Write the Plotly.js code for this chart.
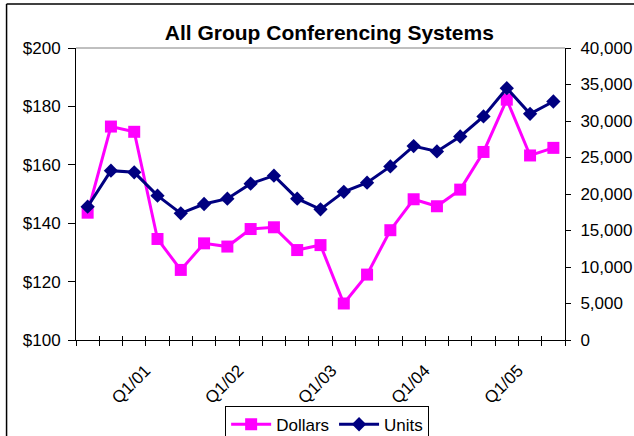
<!DOCTYPE html>
<html>
<head>
<meta charset="utf-8">
<script src="https://cdn.plot.ly/plotly-3.0.1.min.js"></script>
<style>
html,body{margin:0;padding:0;background:#fff;}
#chart{width:634px;height:436px;}
</style>
</head>
<body>
<div id="chart"></div>
<script>
var quarters = ['Q2/00','Q3/00','Q4/00','Q1/01','Q2/01','Q3/01','Q4/01','Q1/02','Q2/02','Q3/02','Q4/02',
                'Q1/03','Q2/03','Q3/03','Q4/03','Q1/04','Q2/04','Q3/04','Q4/04','Q1/05','Q2/05'];
var dollars = [143.6, 173.1, 171.3, 134.6, 124.0, 133.1, 132.0, 138.0, 138.6, 130.8, 132.5,
               112.5, 122.4, 137.6, 148.2, 145.8, 151.5, 164.4, 182.3, 163.2, 165.8];
var units = [18260, 23200, 22970, 19770, 17350, 18630, 19360, 21420, 22510, 19360, 17900,
             20300, 21550, 23780, 26560, 25830, 27880, 30620, 34490, 30980, 32670];
var shownLabels = ['Q1/01','Q1/02','Q1/03','Q1/04','Q1/05'];

var FONT = 'Liberation Sans, Arial, sans-serif';
var tickText = quarters.map(function(q){ return shownLabels.indexOf(q) >= 0 ? q : ''; });

var traces = [
  {x: quarters, y: dollars, name: 'Dollars', type: 'scatter', mode: 'lines+markers',
   xaxis: 'x', yaxis: 'y',
   line: {color: '#FF00FF', width: 3},
   marker: {symbol: 'square', size: 12, color: '#FF00FF'}},
  {x: quarters, y: units, name: 'Units', type: 'scatter', mode: 'lines+markers',
   xaxis: 'x2', yaxis: 'y2',
   line: {color: '#000080', width: 3},
   marker: {symbol: 'diamond', size: 11, color: '#000080'}}
];

var baseX = {
  type: 'category', range: [-0.5, 20.5], tickmode: 'array', tickvals: quarters,
  tickson: 'boundaries', showgrid: false, zeroline: false,
  showline: true, linecolor: '#000', linewidth: 1, tickcolor: '#000', tickwidth: 1
};

var layout = {
  width: 634, height: 436,
  margin: {l: 76, r: 69, t: 48, b: 96, autoexpand: false},
  paper_bgcolor: '#fff', plot_bgcolor: '#fff',
  font: {family: FONT, size: 17, color: '#000'},
  title: {text: 'All Group Conferencing Systems', font: {family: FONT, size: 21, weight: 700, color: '#000'},
          x: 0.518, xanchor: 'center', xref: 'paper', y: 0.926, yref: 'container', yanchor: 'middle'},
  showlegend: true,
  legend: {orientation: 'h', x: 0.305, xanchor: 'left', y: -0.225, yanchor: 'top',
           bordercolor: '#000', borderwidth: 1, bgcolor: '#fff',
           font: {family: FONT, size: 17, color: '#000'}, itemwidth: 40},
  xaxis: Object.assign({}, baseX, {ticktext: tickText, ticks: 'outside', ticklen: 5,
          tickangle: -45, anchor: 'y', ticklabelstandoff: 13, ticklabelshift: -12}),
  xaxis2: Object.assign({}, baseX, {overlaying: 'x', anchor: 'y2', side: 'bottom',
          ticks: 'inside', ticklen: 4, showticklabels: false, ticktext: tickText}),
  yaxis: {range: [100, 200], dtick: 20, tick0: 0, tickprefix: '$', showgrid: false, zeroline: false,
          showline: true, linecolor: '#000', linewidth: 1, ticks: 'outside', ticklen: 7, tickcolor: '#000',
          ticklabelstandoff: 4, side: 'left', anchor: 'x'},
  yaxis3: {range: [100, 200], dtick: 20, tick0: 0, overlaying: 'y', side: 'left', anchor: 'x',
          showgrid: false, zeroline: false, showline: false, ticks: 'inside', ticklen: 5,
          tickcolor: '#000', showticklabels: false},
  yaxis2: {range: [0, 40000], dtick: 5000, tick0: 0, tickformat: ',d', overlaying: 'y', side: 'right',
          anchor: 'x', showgrid: false, zeroline: false, showline: true, linecolor: '#000', linewidth: 1,
          ticks: 'outside', ticklen: 5, tickcolor: '#000', ticklabelstandoff: 6},
  yaxis4: {range: [0, 40000], dtick: 5000, tick0: 0, overlaying: 'y', side: 'right', anchor: 'x',
          showgrid: false, zeroline: false, showline: false, ticks: 'inside', ticklen: 6,
          tickcolor: '#000', showticklabels: false},
  shapes: [
    {type: 'line', xref: 'paper', yref: 'paper', x0: 0, x1: 1, y0: 1, y1: 1,
     line: {color: '#808080', width: 1}, layer: 'below'},
    {type: 'line', xref: 'paper', yref: 'paper', x0: -0.142, x1: 1.2, y0: 1.1507, y1: 1.1507,
     line: {color: '#000', width: 1.5}},
    {type: 'line', xref: 'paper', yref: 'paper', x0: -0.142, x1: -0.142, y0: 1.1507, y1: -0.4,
     line: {color: '#000', width: 1.5}}
  ]
};

Plotly.newPlot('chart', traces, layout, {displayModeBar: false, staticPlot: true});
</script>
</body>
</html>
